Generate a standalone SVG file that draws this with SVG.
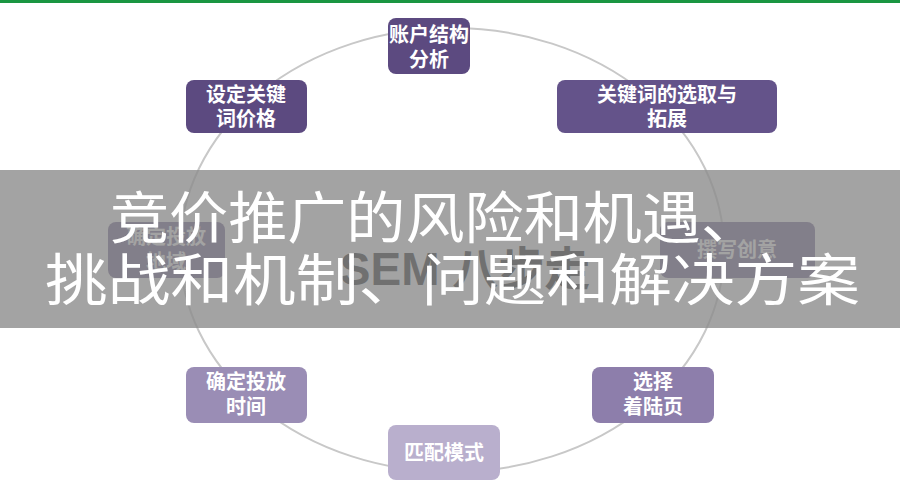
<svg xmlns="http://www.w3.org/2000/svg" width="900" height="500" viewBox="0 0 900 500">
<style>
.n text{font-family:"Noto Sans CJK SC",sans-serif;font-weight:bold;font-size:20px;fill:#fff;text-anchor:middle}
.big{font-family:"Noto Sans CJK SC",sans-serif;font-size:56px;fill:#fff}
</style>
<rect width="900" height="500" fill="#fff"/>
<rect width="900" height="3" fill="#1a9641"/>
<g id="connectors"><ellipse cx="452" cy="250" rx="272" ry="222" fill="none" stroke="#c8c8c8" stroke-width="2"/></g>
<text x="465" y="285" font-family="Liberation Sans,Noto Sans CJK SC,sans-serif" font-weight="bold" font-size="46" text-anchor="middle" fill="#000">SEM 八步走</text>
<g class="n" id="n1"><rect x="388" y="18" width="82" height="56" rx="8" fill="#5c4a80"/><text x="429" y="42">账户结构</text><text x="429" y="67">分析</text></g>
<g class="n" id="n2"><rect x="557" y="80" width="220" height="53" rx="8" fill="#64538a"/><text x="667" y="102">关键词的选取与</text><text x="667" y="126">拓展</text></g>
<g class="n" id="n3"><rect x="660" y="222" width="155" height="56" rx="8" fill="#5c4a80"/><text x="737" y="257">撰写创意</text></g>
<g class="n" id="n4"><rect x="592" y="367" width="122" height="56" rx="8" fill="#8d7eab"/><text x="653" y="389">选择</text><text x="653" y="414">着陆页</text></g>
<g class="n" id="n5"><rect x="388" y="425" width="112" height="55" rx="8" fill="#b9afcd"/><text x="444" y="460">匹配模式</text></g>
<g class="n" id="n6"><rect x="186" y="367" width="121" height="56" rx="8" fill="#9a8db5"/><text x="246" y="389">确定投放</text><text x="246" y="414">时间</text></g>
<g class="n" id="n7"><rect x="108" y="222" width="117" height="56" rx="8" fill="#5c4a80"/><text x="166" y="244">确定投放</text><text x="166" y="269">地域</text></g>
<g class="n" id="n8"><rect x="186" y="80" width="121" height="53" rx="8" fill="#5c4a80"/><text x="246" y="102">设定关键</text><text x="246" y="126">词价格</text></g>
<rect x="0" y="170" width="900" height="158" fill="#8c8c8c" fill-opacity="0.8"/>
<text class="big" x="110" y="238" textLength="650" lengthAdjust="spacingAndGlyphs">竞价推广的风险和机遇、</text>
<text class="big" x="45" y="300" textLength="815" lengthAdjust="spacingAndGlyphs">挑战和机制、问题和解决方案</text>
</svg>
